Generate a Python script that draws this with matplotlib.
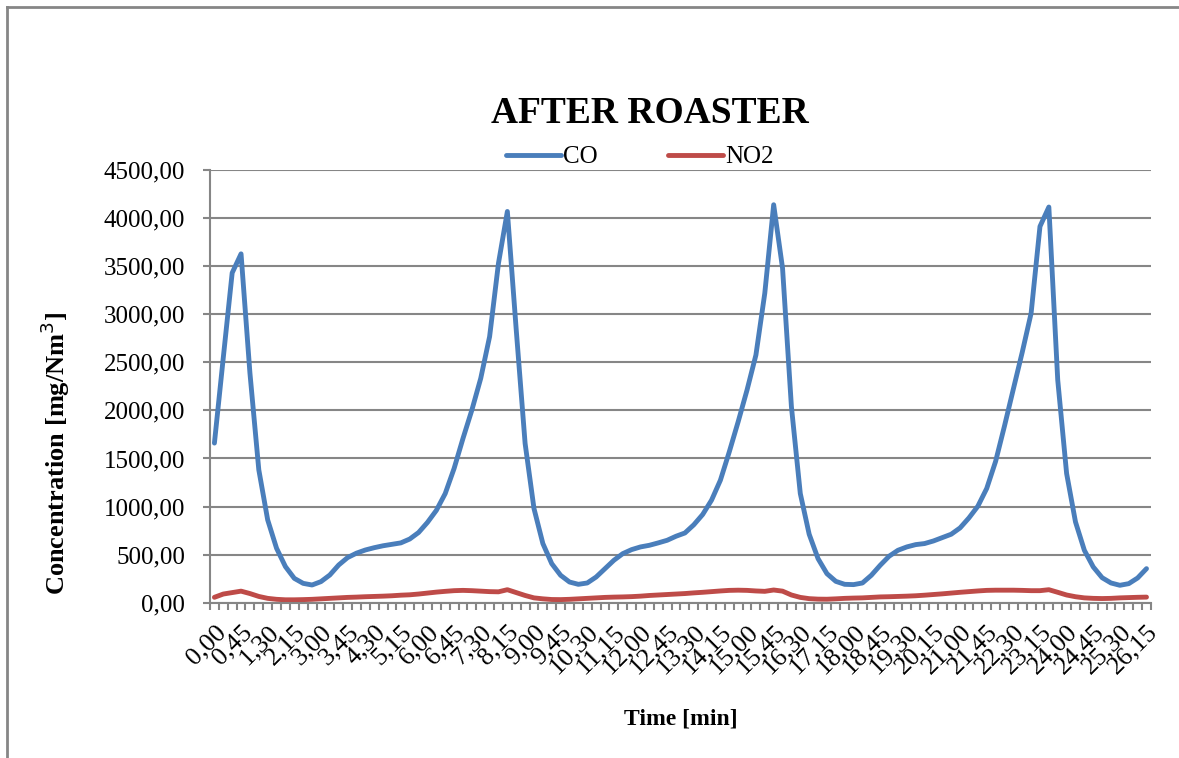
import numpy as np
import matplotlib.pyplot as plt
from matplotlib.lines import Line2D

# время в формате мин,сек с шагом 15 с
times = ["%d,%02d" % (s // 60, s % 60) for s in range(0, 26 * 60 + 16, 15)]

co = [1660, 2550, 3430, 3628, 2389, 1382, 861, 566, 375, 253,
      201, 184, 219, 288, 392, 469, 515, 548, 572, 592,
      607, 622, 662, 730, 835, 960, 1135, 1396, 1708, 2003,
      2333, 2767, 3531, 4069, 2837, 1656, 979, 615, 406, 285,
      215, 191, 205, 267, 354, 441, 510, 552, 580, 597,
      622, 649, 691, 725, 810, 917, 1066, 1274, 1569, 1882,
      2212, 2576, 3219, 4139, 3479, 2038, 1135, 712, 458, 302,
      222, 191, 188, 205, 285, 389, 483, 545, 580, 604,
      615, 642, 677, 712, 778, 882, 1003, 1188, 1469, 1837,
      2222, 2604, 3010, 3913, 4115, 2316, 1344, 840, 545, 372,
      260, 205, 181, 198, 257, 354]

no2 = [56, 90, 105, 120, 95, 65, 45, 35, 30, 30,
       32, 35, 40, 45, 50, 55, 58, 62, 65, 68,
       72, 78, 82, 90, 100, 110, 118, 125, 128, 125,
       120, 115, 113, 135, 105, 75, 50, 40, 33, 32,
       35, 40, 45, 50, 55, 58, 60, 63, 68, 75,
       80, 85, 90, 95, 102, 108, 115, 122, 128, 130,
       128, 122, 118, 132, 120, 80, 55, 42, 37, 36,
       40, 45, 48, 50, 55, 60, 62, 65, 68, 72,
       78, 85, 92, 100, 108, 115, 122, 128, 130, 130,
       130, 128, 125, 125, 135, 108, 80, 62, 50, 45,
       43, 45, 50, 53, 56, 58]

plt.rcParams['font.family'] = ['Liberation Serif', 'DejaVu Serif']

fig = plt.figure(figsize=(11.79, 7.58), dpi=100)
ax = fig.add_axes([0.1781, 0.2049, 0.9762 - 0.1781, 0.7757 - 0.2049])

x = np.arange(len(co))
ax.plot(x, co, color='#4A7EBB', lw=3.5, label='CO', solid_joinstyle='round', solid_capstyle='round')
ax.plot(x, no2, color='#BE4B48', lw=3.5, label='NO2', solid_joinstyle='round', solid_capstyle='round')

ax.set_xlim(-0.5, len(co) - 0.5)
ax.set_ylim(0, 4500)
ax.set_yticks(np.arange(0, 4501, 500))
ax.set_yticklabels(["%d,00" % v for v in range(0, 4501, 500)], fontsize=18)
ax.yaxis.grid(True, color='#868686', lw=1.5)
ax.set_axisbelow(True)

# метки через каждые 3 точки, засечки на границах категорий
ax.set_xticks(x[::3])
ax.set_xticklabels(times[::3], rotation=45, ha='right', va='top',
                   rotation_mode='anchor', fontsize=19)
ax.tick_params(axis='x', length=0, pad=13)
ax.set_xticks(np.arange(-0.5, len(co)), minor=True)
ax.tick_params(axis='x', which='minor', length=5, width=1.5, color='#868686')
ax.tick_params(axis='y', length=5, width=1.5, color='#868686', pad=13)

for s in ['top', 'right']:
    ax.spines[s].set_visible(False)
for s in ['left', 'bottom']:
    ax.spines[s].set_color('#868686')
    ax.spines[s].set_linewidth(1.5)

fig.text(55 / 1179, 1 - 453 / 758, 'Concentration [mg/Nm$^3$]', rotation=90,
         ha='center', va='center', fontsize=19, fontweight='bold')
ax.set_xlabel('Time [min]', fontsize=17, fontweight='bold', labelpad=22)

fig.text(0.551, 0.85, 'AFTER ROASTER', ha='center', va='center', fontsize=27, fontweight='bold')
ax.legend(loc='center', bbox_to_anchor=(0.457, 1.03), ncol=2, frameon=False, fontsize=18,
          handlelength=2.2, handletextpad=0.1, columnspacing=2.8)

# рамка диаграммы
fig.add_artist(Line2D([0.0063, 0.0063], [0, 0.9908], transform=fig.transFigure, color='#868686', lw=2))
fig.add_artist(Line2D([0.0063, 1], [0.9908, 0.9908], transform=fig.transFigure, color='#868686', lw=2))

fig.savefig('out.png', dpi=100)
